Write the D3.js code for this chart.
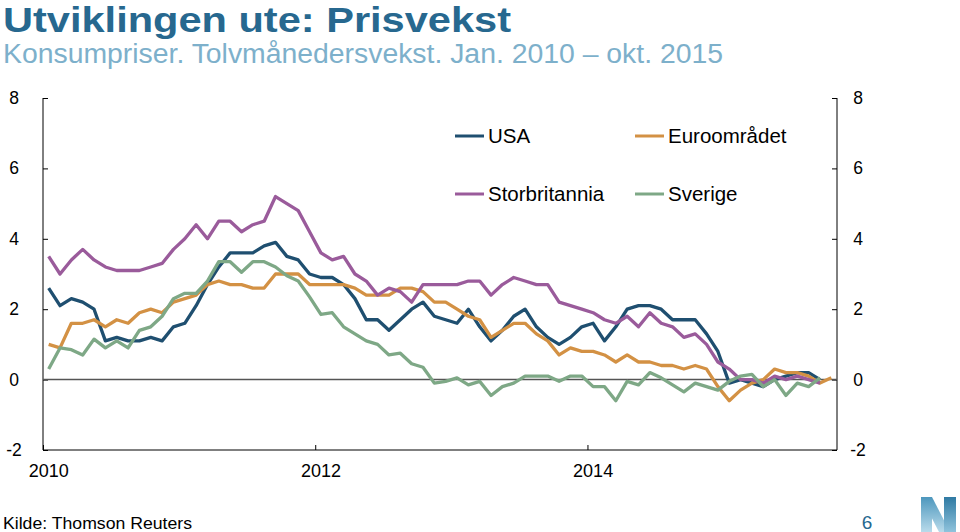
<!DOCTYPE html>
<html><head><meta charset="utf-8">
<script src="https://cdn.jsdelivr.net/npm/d3@7"></script>
<style>
html,body{margin:0;padding:0;background:#fff;}
svg{display:block;font-family:"Liberation Sans",Arial,sans-serif;}
</style></head>
<body><svg id="c" width="960" height="532"></svg>
<script>
// Month index 0 = Jan 2010
const usa = [2.6,2.1,2.3,2.2,2.0,1.1,1.2,1.1,1.1,1.2,1.1,1.5,
  1.6,2.1,2.7,3.2,3.6,3.6,3.6,3.8,3.9,3.5,3.4,3.0,
  2.9,2.9,2.7,2.3,1.7,1.7,1.4,1.7,2.0,2.2,1.8,1.7,
  1.6,2.0,1.5,1.1,1.4,1.8,2.0,1.5,1.2,1.0,1.2,1.5,
  1.6,1.1,1.5,2.0,2.1,2.1,2.0,1.7,1.7,1.7,1.3,0.8,
  -0.1,0.0,-0.1,-0.2,0.0,0.1,0.2,0.2,0.0];
const euro = [1.0,0.9,1.6,1.6,1.7,1.5,1.7,1.6,1.9,2.0,1.9,2.2,
  2.3,2.4,2.7,2.8,2.7,2.7,2.6,2.6,3.0,3.0,3.0,2.7,
  2.7,2.7,2.7,2.6,2.4,2.4,2.4,2.6,2.6,2.5,2.2,2.2,
  2.0,1.8,1.7,1.2,1.4,1.6,1.6,1.3,1.1,0.7,0.9,0.8,
  0.8,0.7,0.5,0.7,0.5,0.5,0.4,0.4,0.3,0.4,0.3,-0.2,
  -0.6,-0.3,-0.1,0.0,0.3,0.2,0.2,0.1,-0.1,0.05];
const uk = [3.5,3.0,3.4,3.7,3.4,3.2,3.1,3.1,3.1,3.2,3.3,3.7,
  4.0,4.4,4.0,4.5,4.5,4.2,4.4,4.5,5.2,5.0,4.8,4.2,
  3.6,3.4,3.5,3.0,2.8,2.4,2.6,2.5,2.2,2.7,2.7,2.7,
  2.7,2.8,2.8,2.4,2.7,2.9,2.8,2.7,2.7,2.2,2.1,2.0,
  1.9,1.7,1.6,1.8,1.5,1.9,1.6,1.5,1.2,1.3,1.0,0.5,
  0.3,0.0,0.0,-0.1,0.1,0.0,0.1,0.0,-0.1];
const sweden = [0.3,0.9,0.85,0.7,1.15,0.9,1.1,0.9,1.4,1.5,1.8,2.3,
  2.45,2.45,2.8,3.35,3.35,3.05,3.35,3.35,3.2,2.95,2.8,2.35,
  1.85,1.9,1.5,1.3,1.1,1.0,0.7,0.75,0.45,0.35,-0.1,-0.05,
  0.05,-0.15,-0.05,-0.45,-0.2,-0.1,0.1,0.1,0.1,-0.05,0.1,0.1,
  -0.2,-0.2,-0.6,-0.05,-0.15,0.2,0.05,-0.15,-0.35,-0.1,-0.2,-0.3,
  -0.05,0.1,0.15,-0.2,0.0,-0.45,-0.1,-0.2,0.05];
const seriesNames = ["USA","Euroområdet","Storbritannia","Sverige"];
const seriesColors = ["#1f4f70","#d39144","#9a5b9b","#7ea886"];
const yTicks = [8,6,4,2,0,-2];
const xTickYears = [2010,2012,2014];

const svg = d3.select("#c");
const pL = 43, pR = 837, pT = 98, pB = 450;
const x = d3.scaleLinear().domain([-0.5, 69.5]).range([pL, pR]);
const y = d3.scaleLinear().domain([-2, 8]).range([pB, pT]);

// Title
svg.append("text").attr("x",3).attr("y",32).attr("font-size",35).attr("font-weight","bold")
  .attr("textLength",508).attr("lengthAdjust","spacingAndGlyphs")
  .attr("fill","#27688f").text("Utviklingen ute: Prisvekst");
svg.append("text").attr("x",3).attr("y",63).attr("font-size",27)
  .attr("textLength",720).attr("lengthAdjust","spacingAndGlyphs")
  .attr("fill","#7db0cb").text("Konsumpriser. Tolvmånedersvekst. Jan. 2010 – okt. 2015");

// Frame
const g = svg.append("g");
g.append("line").attr("x1",pL).attr("x2",pL).attr("y1",pT).attr("y2",pB).attr("stroke","#000").attr("stroke-width",1);
g.append("line").attr("x1",pR).attr("x2",pR).attr("y1",pT).attr("y2",pB).attr("stroke","#000").attr("stroke-width",1);
g.append("line").attr("x1",pL).attr("x2",pR).attr("y1",pB).attr("y2",pB).attr("stroke","#000").attr("stroke-width",1);

// Y axes (ticks inward)
const yL = d3.axisRight(y).tickValues(yTicks).tickSize(5).tickFormat("");
const yR = d3.axisLeft(y).tickValues(yTicks).tickSize(5).tickFormat("");
g.append("g").attr("transform",`translate(${pL},0)`).call(yL).call(s=>s.select(".domain").remove());
g.append("g").attr("transform",`translate(${pR},0)`).call(yR).call(s=>s.select(".domain").remove());
yTicks.forEach(v=>{
  g.append("text").attr("x",14).attr("y",y(v)+6).attr("text-anchor","middle").attr("font-size",17.5).text(v===-2?"-2":v);
  g.append("text").attr("x",858).attr("y",y(v)+6).attr("text-anchor","middle").attr("font-size",17.5).text(v===-2?"-2":v);
});

// X axis: ticks at year boundaries, labels at January
const xTickPos = xTickYears.map(yr => (yr-2010)*12 - 0.5);
const xa = d3.axisTop(x).tickValues(xTickPos).tickSize(5).tickFormat("");
g.append("g").attr("transform",`translate(0,${pB})`).call(xa).call(s=>s.select(".domain").remove());
xTickYears.forEach(yr=>{
  g.append("text").attr("x",x((yr-2010)*12)).attr("y",477).attr("text-anchor","middle").attr("font-size",18).text(yr);
});

// Zero line
g.append("line").attr("x1",pL).attr("x2",pR).attr("y1",y(0)).attr("y2",y(0)).attr("stroke","#555").attr("stroke-width",1.5);

// Lines
const line = d3.line().x((d,i)=>x(i)).y(d=>y(d));
[usa,euro,uk,sweden].forEach((s,i)=>{
  g.append("path").datum(s).attr("d",line).attr("fill","none")
   .attr("stroke",seriesColors[i]).attr("stroke-width",3.3).attr("stroke-linejoin","round");
});

// Legend
const legPos = [[455,136],[635,136],[455,194],[635,194]];
seriesNames.forEach((n,i)=>{
  const [lx,ly] = legPos[i];
  svg.append("line").attr("x1",lx).attr("x2",lx+29).attr("y1",ly).attr("y2",ly)
    .attr("stroke",seriesColors[i]).attr("stroke-width",3);
  svg.append("text").attr("x",lx+33).attr("y",ly+7).attr("font-size",20.5).attr("fill","#000").text(n);
});

// Footer
svg.append("text").attr("x",3).attr("y",529).attr("font-size",17)
  .attr("textLength",189).attr("lengthAdjust","spacingAndGlyphs").text("Kilde: Thomson Reuters");
svg.append("text").attr("x",867).attr("y",529).attr("font-size",19).attr("text-anchor","middle").attr("fill","#27688f").text("6");

// Logo
const defs = svg.append("defs");
const gr = defs.append("linearGradient").attr("id","lg").attr("x1","0").attr("y1","0").attr("x2","0").attr("y2","1");
gr.append("stop").attr("offset","0").attr("stop-color","#4d97bd");
gr.append("stop").attr("offset","1").attr("stop-color","#b9dbeb");
const gr2 = defs.append("linearGradient").attr("id","lg2").attr("x1","0").attr("y1","0").attr("x2","0").attr("y2","1");
gr2.append("stop").attr("offset","0").attr("stop-color","#2f7aa3");
gr2.append("stop").attr("offset","1").attr("stop-color","#8fc3dc");
svg.append("polygon").attr("points","921,497 932,497 932,532 921,532").attr("fill","url(#lg)");
svg.append("polygon").attr("points","921,497 932,497 950,532 939,532").attr("fill","url(#lg)");
svg.append("polygon").attr("points","944,497 956,497 956,532 944,532").attr("fill","url(#lg2)");
</script></body></html>
